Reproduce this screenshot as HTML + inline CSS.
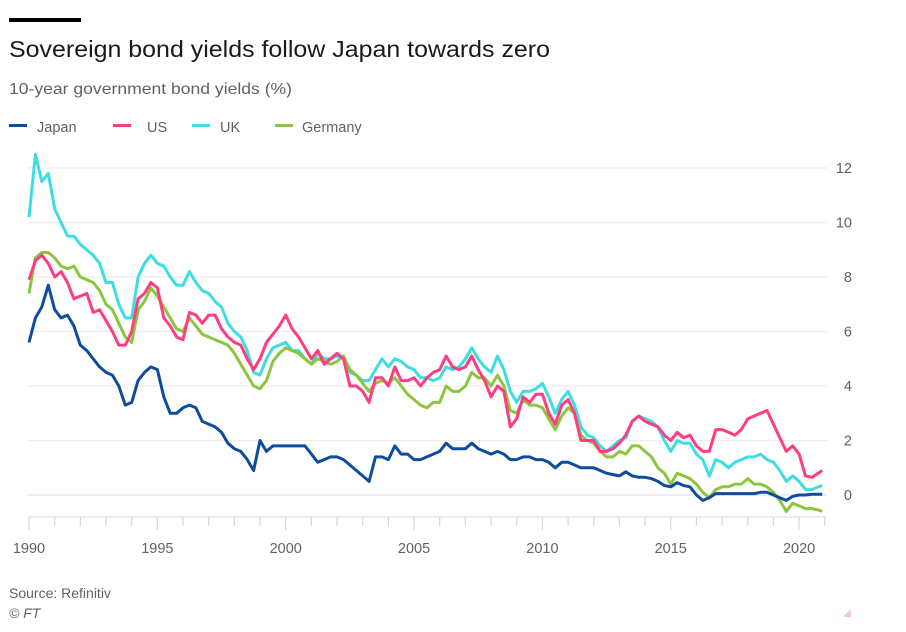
<!DOCTYPE html>
<html><head><meta charset="utf-8"><style>
html,body{margin:0;padding:0;background:#fff;}
svg{display:block;font-family:"Liberation Sans",sans-serif;}
</style></head><body>
<svg id="chart" width="906" height="632" viewBox="0 0 906 632">
<rect x="9" y="18" width="72" height="4" fill="#000"/>
<text x="9" y="57" font-size="23" fill="#1a1a1a" textLength="541" lengthAdjust="spacingAndGlyphs">Sovereign bond yields follow Japan towards zero</text>
<text x="9" y="94" font-size="16" fill="#66605c" textLength="283" lengthAdjust="spacingAndGlyphs">10-year government bond yields (%)</text>
<g>
<g><rect x="9" y="124" width="18" height="3" fill="#0f4c9c"/><text x="37" y="132" font-size="14.5" fill="#66605c">Japan</text></g>
<g><rect x="113" y="124" width="18" height="3" fill="#ff3d80"/><text x="147" y="132" font-size="14.5" fill="#66605c">US</text></g>
<g><rect x="192" y="124" width="18" height="3" fill="#3ddde3"/><text x="220" y="132" font-size="14.5" fill="#66605c">UK</text></g>
<g><rect x="275" y="124" width="18" height="3" fill="#8cc63f"/><text x="302" y="132" font-size="14.5" fill="#66605c">Germany</text></g>
</g>
<g id="grid"></g>
<g id="xaxis"></g>
<g id="yaxis"></g>
<g id="series"></g>
<text x="9" y="598" font-size="14" fill="#66605c">Source: Refinitiv</text>
<text x="9" y="618" font-size="14" font-style="italic" fill="#66605c">© FT</text>
<polygon points="843,617 851,617 851,609" fill="#f7c6cc"/>
</svg>
<script>
const startYear = 1990;
const stepYears = 0.25;
const yTicks = [0, 2, 4, 6, 8, 10, 12];
const xTickLabels = [1990, 1995, 2000, 2005, 2010, 2015, 2020];
const seriesNames = ["UK", "Germany", "US", "Japan"];
const japan = [5.6,6.5,6.9,7.7, 6.8,6.5,6.6,6.2, 5.5,5.3,5.0,4.7, 4.5,4.4,4.0,3.3, 3.4,4.2,4.5,4.7, 4.6,3.6,3.0,3.0, 3.2,3.3,3.2,2.7, 2.6,2.5,2.3,1.9, 1.7,1.6,1.3,0.9, 2.0,1.6,1.8,1.8, 1.8,1.8,1.8,1.8, 1.5,1.2,1.3,1.4, 1.4,1.3,1.1,0.9, 0.7,0.5,1.4,1.4, 1.3,1.8,1.5,1.5, 1.3,1.3,1.4,1.5, 1.6,1.9,1.7,1.7, 1.7,1.9,1.7,1.6, 1.5,1.6,1.5,1.3, 1.3,1.4,1.4,1.3, 1.3,1.2,1.0,1.2, 1.2,1.1,1.0,1.0, 1.0,0.9,0.8,0.75, 0.7,0.85,0.7,0.65, 0.65,0.6,0.5,0.35, 0.3,0.45,0.35,0.3, 0.0,-0.2,-0.1,0.05, 0.05,0.05,0.05,0.05, 0.05,0.05,0.1,0.1, 0.0,-0.1,-0.2,-0.05, 0.0,0.0,0.03,0.03,0.03];
const us = [7.9,8.6,8.8,8.5, 8.0,8.2,7.8,7.2, 7.3,7.4,6.7,6.8, 6.4,6.0,5.5,5.5, 6.0,7.2,7.4,7.8, 7.6,6.5,6.2,5.8, 5.7,6.7,6.6,6.3, 6.6,6.6,6.1,5.8, 5.6,5.5,5.0,4.6, 5.0,5.6,5.9,6.2, 6.6,6.1,5.8,5.4, 5.0,5.3,4.8,5.0, 5.2,5.0,4.0,4.0, 3.8,3.4,4.3,4.3, 4.0,4.7,4.2,4.2, 4.3,4.0,4.3,4.5, 4.6,5.1,4.7,4.6, 4.7,5.1,4.6,4.2, 3.6,4.0,3.8,2.5, 2.8,3.6,3.4,3.7, 3.7,3.0,2.6,3.3, 3.5,3.0,2.0,2.0, 2.0,1.6,1.6,1.7, 1.9,2.2,2.7,2.9, 2.7,2.6,2.5,2.2, 2.0,2.3,2.1,2.2, 1.8,1.6,1.6,2.4, 2.4,2.3,2.2,2.4, 2.8,2.9,3.0,3.1, 2.6,2.1,1.6,1.8, 1.5,0.7,0.65,0.8,0.9];
const uk = [10.2,12.5,11.5,11.8, 10.5,10.0,9.5,9.5, 9.2,9.0,8.8,8.5, 7.8,7.8,7.0,6.5, 6.5,8.0,8.5,8.8, 8.5,8.4,8.0,7.7, 7.7,8.2,7.8,7.5, 7.4,7.1,6.9,6.3, 6.0,5.8,5.3,4.5, 4.4,5.0,5.4,5.5, 5.6,5.3,5.3,5.0, 4.8,5.2,5.0,5.0, 5.1,5.0,4.5,4.4, 4.2,4.2,4.6,5.0, 4.7,5.0,4.9,4.7, 4.6,4.3,4.3,4.2, 4.3,4.7,4.6,4.7, 5.0,5.4,5.0,4.7, 4.5,5.1,4.6,3.8, 3.4,3.8,3.8,3.9, 4.1,3.6,3.0,3.5, 3.8,3.3,2.5,2.2, 2.1,1.8,1.6,1.8, 2.0,2.1,2.7,2.9, 2.8,2.7,2.5,2.0, 1.6,2.0,1.9,1.9, 1.5,1.3,0.7,1.3, 1.2,1.0,1.2,1.3, 1.4,1.4,1.5,1.3, 1.2,0.9,0.5,0.7, 0.5,0.2,0.2,0.3,0.35];
const germany = [7.4,8.7,8.9,8.9, 8.7,8.4,8.3,8.4, 8.0,7.9,7.8,7.5, 7.0,6.8,6.3,5.8, 5.6,6.8,7.1,7.6, 7.3,6.9,6.5,6.1, 6.0,6.5,6.2,5.9, 5.8,5.7,5.6,5.5, 5.2,4.8,4.4,4.0, 3.9,4.2,4.9,5.2, 5.4,5.3,5.2,5.0, 4.8,5.0,4.9,4.8, 4.9,5.1,4.6,4.4, 4.1,3.8,4.1,4.2, 4.1,4.3,4.0,3.7, 3.5,3.3,3.2,3.4, 3.4,4.0,3.8,3.8, 4.0,4.5,4.3,4.3, 4.0,4.4,4.0,3.1, 3.0,3.5,3.3,3.3, 3.2,2.8,2.4,2.9, 3.2,3.0,2.2,2.0, 1.9,1.6,1.4,1.4, 1.6,1.5,1.8,1.8, 1.6,1.4,1.0,0.8, 0.4,0.8,0.7,0.6, 0.4,0.1,-0.1,0.2, 0.3,0.3,0.4,0.4, 0.6,0.4,0.4,0.3, 0.1,-0.2,-0.6,-0.3, -0.4,-0.5,-0.5,-0.55,-0.6];

const NS = "http://www.w3.org/2000/svg";
const x = yr => 29 + (yr - 1990) * 25.67;
const y = v => 495 - v * 27.25;
const dateAt = i => Math.min(startYear + i * stepYears, 2020.9);

const grid = document.getElementById('grid');
const yaxis = document.getElementById('yaxis');
yTicks.forEach(t => {
  const l = document.createElementNS(NS, 'line');
  
  
  l.setAttribute('x1', 28); l.setAttribute('x2', 827);
  l.setAttribute('y1', y(t)); l.setAttribute('y2', y(t));
  l.setAttribute('stroke', t === 0 ? '#e6dfdc' : '#f2ece9'); l.setAttribute('stroke-width', 1.2);
  grid.appendChild(l);
  const tx = document.createElementNS(NS, 'text');
  
  
  tx.setAttribute('x', 852); tx.setAttribute('y', y(t) + 5);
  tx.setAttribute('text-anchor', 'end'); tx.setAttribute('font-size', 14.5); tx.setAttribute('fill', '#66605c');
  tx.textContent = t;
  yaxis.appendChild(tx);
});

const xaxis = document.getElementById('xaxis');
const base = document.createElementNS(NS, 'line');


base.setAttribute('x1', 28); base.setAttribute('x2', 827); base.setAttribute('y1', 517); base.setAttribute('y2', 517);
base.setAttribute('stroke', '#e6dfdc'); base.setAttribute('stroke-width', 1.2);
xaxis.appendChild(base);
for (let yr = 1990; yr <= 2021; yr++) {
  const tk = document.createElementNS(NS, 'line');
  
  
  tk.setAttribute('x1', x(yr)); tk.setAttribute('x2', x(yr));
  tk.setAttribute('y1', 517); tk.setAttribute('y2', yr % 5 === 0 ? 530 : 526);
  tk.setAttribute('stroke', '#ddd6d3'); tk.setAttribute('stroke-width', 1.2);
  xaxis.appendChild(tk);
}
xTickLabels.forEach(yr => {
  const tx = document.createElementNS(NS, 'text');
  
  
  tx.setAttribute('x', x(yr)); tx.setAttribute('y', 553);
  tx.setAttribute('text-anchor', 'middle'); tx.setAttribute('font-size', 14.5); tx.setAttribute('fill', '#66605c');
  tx.textContent = yr;
  xaxis.appendChild(tx);
});

const seriesG = document.getElementById('series');
const seriesData = [uk, germany, us, japan];
const colors = ['#3ddde3', '#8cc63f', '#ff3d80', '#0f4c9c'];
seriesData.forEach((arr, k) => {
  const p = document.createElementNS(NS, 'path');
  
  
  p.setAttribute('d', arr.map((v, i) => (i ? 'L' : 'M') + x(dateAt(i)).toFixed(1) + ',' + y(v).toFixed(1)).join(''));
  p.setAttribute('fill', 'none'); p.setAttribute('stroke', colors[k]);
  p.setAttribute('stroke-width', 3); p.setAttribute('stroke-linejoin', 'round');
  seriesG.appendChild(p);
});
</script>
</body></html>
